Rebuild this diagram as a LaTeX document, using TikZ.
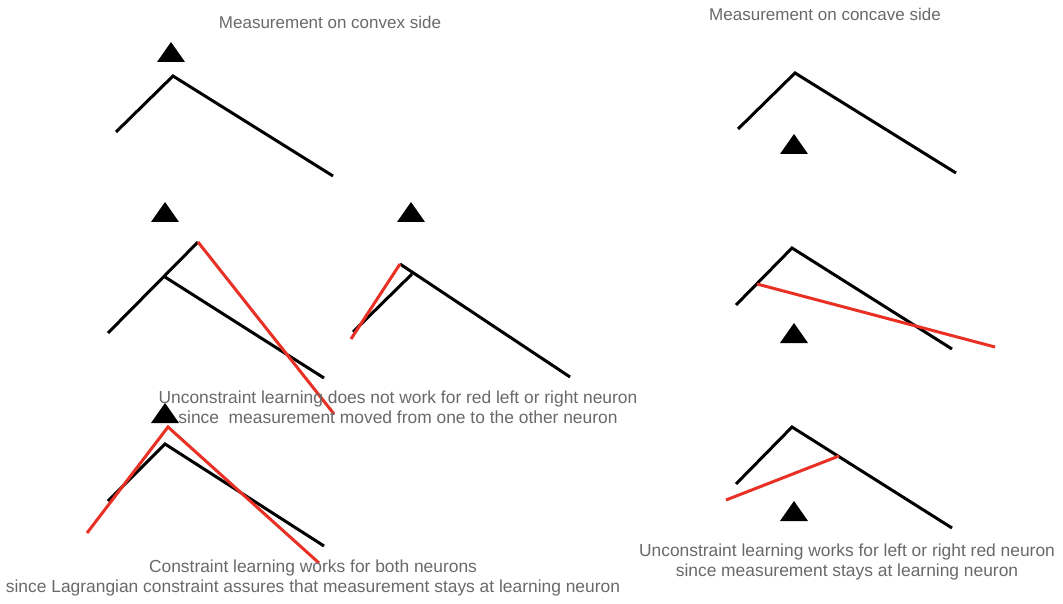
\documentclass[tikz,border=0pt]{standalone}
\usepackage{fontspec}
\setmainfont{Liberation Sans}
\usepackage{tikz}
\definecolor{lrnred}{RGB}{232,48,36}
\definecolor{capgray}{RGB}{105,105,105}

\begin{document}
\begin{tikzpicture}[
  x=1pt, y=-1pt,
  neuron/.style={line width=3pt, black},
  learned/.style={line width=3pt, lrnred},
  title/.style={text=capgray, inner sep=0pt, font=\fontsize{17}{20}\selectfont},
  caption/.style={text=capgray, align=center, inner sep=0pt, font=\fontsize{17.4}{20}\selectfont},
  meas/.pic={\fill (-14pt,-10pt) -- (14pt,-10pt) -- (0pt,10pt) -- cycle;}
]
\path[use as bounding box] (0,0) rectangle (1063,604);

% convex side
\node[title] (convex) at (330,22) {Measurement on convex side};
\pic at (171,52) {meas};
\coordinate (a1) at (116,132); \coordinate (a2) at (173,76); \coordinate (a3) at (333,176);
\draw[neuron] (a1) -- (a2) -- (a3);

\pic at (165,212) {meas};
\coordinate (b1) at (108,333); \coordinate (b2) at (198,242);
\coordinate (b3) at (165,277); \coordinate (b4) at (324,378); \coordinate (b5) at (334,414);
\draw[neuron] (b1) -- (b2);
\draw[neuron] (b3) -- (b4);
\draw[learned] (b2) -- (b5);

\pic at (411,212) {meas};
\coordinate (c1) at (353,332); \coordinate (c2) at (412,274);
\coordinate (c3) at (400,264); \coordinate (c4) at (570,377); \coordinate (c5) at (351,339);
\draw[neuron] (c1) -- (c2);
\draw[neuron] (c3) -- (c4);
\draw[learned] (c3) -- (c5);

\node[caption] (nowork) at (398,407) {Unconstraint learning does not work for red left or right neuron\\since\ \ measurement moved from one to the other neuron};

\pic at (165,413) {meas};
\coordinate (d1) at (108,501); \coordinate (d2) at (165,444); \coordinate (d3) at (324,546);
\coordinate (d4) at (87,533); \coordinate (d5) at (168,427); \coordinate (d6) at (319,563);
\draw[neuron] (d1) -- (d2) -- (d3);
\draw[learned] (d4) -- (d5) -- (d6);

\node[caption] (both) at (313,578) {Constraint learning works for both neurons\\since Lagrangian constraint assures that measurement stays at learning neuron};

% concave side
\node[title] (concave) at (825,14) {Measurement on concave side};
\pic at (794,144) {meas};
\coordinate (e1) at (738,129); \coordinate (e2) at (795,73); \coordinate (e3) at (956,173);
\draw[neuron] (e1) -- (e2) -- (e3);

\pic at (794,333) {meas};
\coordinate (f1) at (736,305); \coordinate (f2) at (792,248); \coordinate (f3) at (952,349);
\coordinate (f4) at (757,284); \coordinate (f5) at (995,347);
\draw[neuron] (f1) -- (f2) -- (f3);
\draw[learned] (f4) -- (f5);

\pic at (794,511) {meas};
\coordinate (g1) at (736,484); \coordinate (g2) at (792,427); \coordinate (g3) at (952,528);
\coordinate (g4) at (726,500); \coordinate (g5) at (839,456);
\draw[neuron] (g1) -- (g2) -- (g3);
\draw[learned] (g4) -- (g5);

\node[caption] (works) at (847,562) {Unconstraint learning works for left or right red neuron\\since measurement stays at learning neuron};
\end{tikzpicture}
\end{document}
